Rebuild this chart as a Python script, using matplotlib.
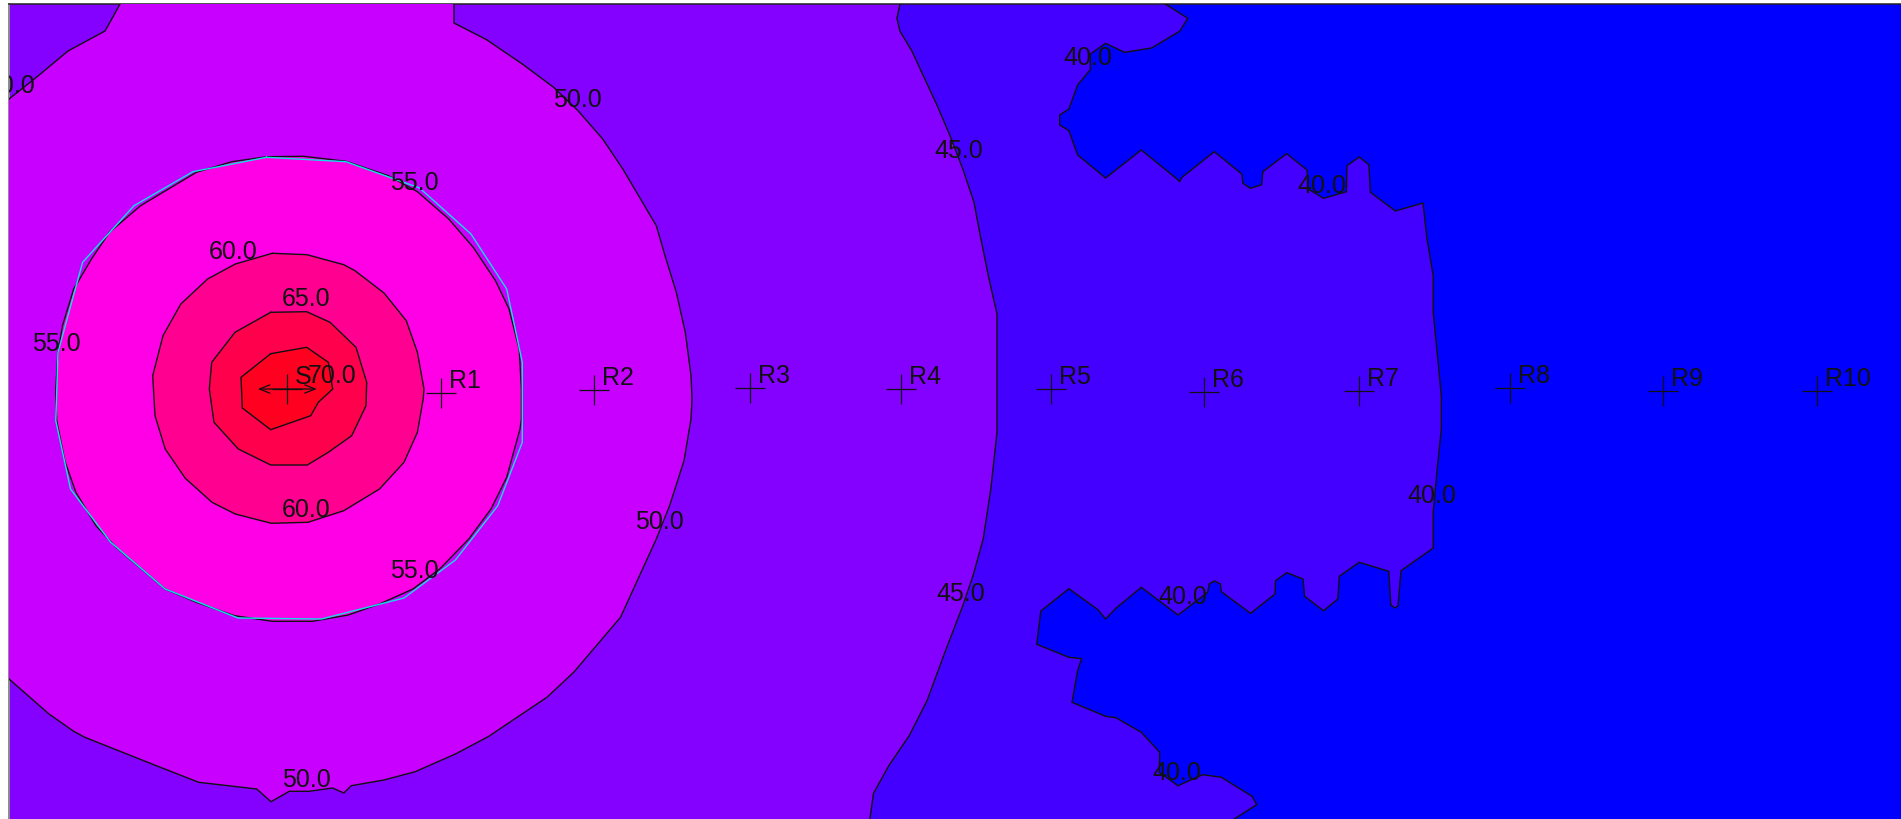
import matplotlib
matplotlib.use("Agg")
import matplotlib.pyplot as plt

plt.rcParams['font.family'] = ['Liberation Sans', 'DejaVu Sans']

W, H = 1901, 820
X0, Y0 = 9, 5

levels_fill = {
    'below40': '#0000ff', 'c40': '#4400ff', 'c45': '#8400ff', 'c50': '#c800ff',
    'c55': '#ff00e6', 'c60': '#ff0090', 'c65': '#ff004c', 'c70': '#ff0020',
}

c40_x = [1165.3,1187.8,1179.6,1151.5,1124.5,1105.6,1090.3,1090.3,1077.6,1068.9,1059.7,1059.7,1068.9,1077.6,1105.6,1141.3,1177,1179.6,1182,1214.3,1241.8,1242.9,1250.5,1261.7,1262.8,1286.7,1307,1308.2,1323.5,1346.4,1347,1359.2,1368.9,1370.4,1395.4,1423,1427,1433.2,1433.2,1441.3,1441.3,1441.3,1437.2,1433.2,1433.2,1401,1398,1394.9,1390.8,1388.8,1359.2,1339.3,1337.8,1323.5,1304.6,1303,1286.7,1275.5,1275,1250.5,1221.4,1220.4,1214.3,1209.2,1207.7,1178,1141.3,1115.8,1105.6,1098,1068.9,1040.8,1036.7,1068.9,1081.6,1077.6,1072,1105.6,1115.8,1141.3,1159.7,1159.2,1178,1202.6,1221.4,1252,1256.7,1234.2]
c40_y = [5,19.3,32.3,49,53.3,44.3,55,70.7,86,110,116,126,131.7,156,179,151,180,182.7,178.3,152.7,175,184.3,189.3,185.7,172.7,154.7,171,190,199.3,192.7,166.7,158,165.7,193.3,212,204,240,276.7,313.3,396.7,400,430,470,513.3,549,571.7,606.7,609,606,572.3,563.3,577.3,600,611.7,597.3,580,573.7,581.7,595,614.3,592.7,585,582,585,593.3,616,588.3,609.3,620,610.7,589.7,612,645.3,658.3,659.7,671.7,703.3,717.3,718.7,733.3,753.3,773.3,786.7,775.7,778.3,797.3,805.7,820]

c45_x = [900,896.9,900,911.7,937.2,950,962.8,974,979.6,988.3,997,997,997,990.8,983.2,973,962.8,944.9,927,909.2,888.8,873.5,869.9]
c45_y = [5,19.3,32.3,51.7,106.7,136.7,170,203.3,233.3,276.7,315,420,433.3,490,540,576.7,606.7,653.3,701.7,736.7,766.7,794.3,820]

c50_main_x = [454,454,486.6,522.3,553.6,578,602.7,622.8,656.3,665,676.3,685.3,691,692,691,684,669.6,656.3,620.5,573.7,546.9,488.8,455.4,415.2,383.9,351.3,343.8,332.6,308.9,289.3,271,256.7,198.7,156.3,84.8,73.7,49,9]
c50_main_y = [5,24,40.7,65,88.3,111.7,140,170,226.7,256.7,293.3,333.3,376.7,400,420,461.7,506.7,540,618.3,673.3,698.3,737.3,755,772.7,781,786.7,794,789,792.3,792.3,802.7,790,783.3,766.7,738.3,732.3,715,680]
c50_corner_x = [9,38,68,105,114,120]
c50_corner_y = [100,77,52,32,16,5]

c55_x = [267,303.6,346,388.4,417.4,448.7,473.2,495.5,509,519.2,521.4,521.4,520,506.7,491,468.8,439.7,413,379.5,348.2,312.5,272.3,234.4,196.4,165.2,116,96,75.9,64.7,56.7,55.8,55.8,58,62.5,73.7,91.5,109.4,140.6,196.4,232]
c55_y = [157.7,157.3,162.3,176.7,192.7,220,248.3,281.7,310,350,390,420,430,478.3,510,540,570,590,605,616,622.3,622.3,616.7,603.3,590,548.3,526.7,493.3,461.7,421.7,400,390,353.3,326.7,290,260,233.3,206.7,173.3,162.7]

cyan_x = [266.5,346,419.6,471,506.7,522.3,522.3,497.8,455.4,404,321.4,238,165.2,110.7,70.5,55.8,58,82.6,134,192.9]
cyan_y = [158.3,162.7,189,235,290,363.3,443.3,506.7,561,599,620,619,590,543.3,490,421.7,353.3,263.3,206.7,172.7]

c60_x = [272.3,307,343.8,355,384,406.3,417.4,424,423.2,417.4,404,379.5,343.8,308,271.4,235.3,212,185.3,165.2,155,152.7,163,180.8,207.6,235.3]
c60_y = [254.3,255.7,265.7,271.7,294,321.7,353.3,390,400,433.3,463.3,490,511.7,523.3,524.3,515,503.3,479.3,450,416.7,376.7,336.7,305,280,265]

c65_x = [270.7,306.7,330,356,366.7,366,351.7,328.3,307.3,270.7,238.3,214,209.3,211.7,235]
c65_y = [313.3,312.7,323.3,348.3,383.3,406.7,436.7,453.3,466,466,450,423.3,390,363.3,333.3]

c70_x = [270.7,306.7,328.3,332.7,318.3,310.7,270.7,242.3,241]
c70_y = [354.7,348.3,363.3,390,403.3,416.7,430.7,409,378.3]

receiver_names = ['R1','R2','R3','R4','R5','R6','R7','R8','R9','R10']
receiver_x = [441,593.8,750,901,1051,1203.6,1358.7,1510,1663.3,1816.7]
receiver_y = [394,390.7,389,390,390,392.7,391.7,389,391.7,391.7]

source_name = 'S'
source_x, source_y = 287.3, 390

label_texts = ['50.0','50.0','55.0','60.0','65.0','55.0','70.0','60.0','55.0','50.0','50.0','40.0','45.0','40.0','45.0','40.0','40.0','40.0']
label_x = [-13,554,391.5,209.8,282.6,32.6,308.3,282.6,391.5,636,282.6,1064.8,935.7,1298,937.2,1408.2,1159.2,1153]
label_y = [93,106.7,190,259.3,306,350.7,382.7,517.3,577.7,529.3,786.7,65,158.3,193.3,601,503.3,604.3,780]

fig = plt.figure(figsize=(W/100, H/100), dpi=100, facecolor='white')
ax = fig.add_axes([X0/W, 0, (W-X0)/W, (H-Y0)/H])
ax.set_xlim(X0, W)
ax.set_ylim(H, Y0)
ax.set_facecolor(levels_fill['below40'])
ax.set_xticks([]); ax.set_yticks([])
for s in ('right', 'bottom'):
    ax.spines[s].set_visible(False)
ax.spines['left'].set_linewidth(1.4)
ax.spines['left'].set_color('#8a8a8a')
ax.spines['top'].set_linewidth(1.1)
ax.spines['top'].set_color('#222222')

LW = 1.0

# filled bands: outer to inner, each closed along the plot frame
ax.fill(c40_x + [X0, X0], c40_y + [H, Y0], color=levels_fill['c40'], lw=0, zorder=1)
ax.fill(c45_x + [X0, X0], c45_y + [H, Y0], color=levels_fill['c45'], lw=0, zorder=2)
ax.fill(c50_main_x + c50_corner_x, c50_main_y + c50_corner_y, color=levels_fill['c50'], lw=0, zorder=3)
ax.fill(c55_x, c55_y, color=levels_fill['c55'], lw=0, zorder=4)
ax.fill(c60_x, c60_y, color=levels_fill['c60'], lw=0, zorder=5)
ax.fill(c65_x, c65_y, color=levels_fill['c65'], lw=0, zorder=6)
ax.fill(c70_x, c70_y, color=levels_fill['c70'], lw=0, zorder=7)

# contour lines
for xs, ys in [(c40_x, c40_y), (c45_x, c45_y), (c50_main_x, c50_main_y), (c50_corner_x, c50_corner_y)]:
    ax.plot(xs, ys, color='#111111', lw=LW, zorder=8, solid_joinstyle='miter')
for xs, ys in [(c55_x, c55_y), (c60_x, c60_y), (c65_x, c65_y), (c70_x, c70_y)]:
    ax.plot(xs + xs[:1], ys + ys[:1], color='#111111', lw=LW, zorder=8, solid_joinstyle='miter')
ax.plot(cyan_x + cyan_x[:1], cyan_y + cyan_y[:1], color='#10dfe8', lw=LW, zorder=9)

# receivers and source
ax.plot(receiver_x, receiver_y, ls='none', marker='+', ms=21.6, mew=0.9, color='#111111', zorder=10)
ax.plot([source_x], [source_y], ls='none', marker='+', ms=21.6, mew=0.9, color='#111111', zorder=10)
ax.annotate('', xy=(source_x-29.5, source_y), xytext=(source_x+29.5, source_y),
            arrowprops=dict(arrowstyle='<->,head_length=0.75,head_width=0.3', lw=0.9, color='#111111',
                            shrinkA=0, shrinkB=0), zorder=10)

FS = 18
for name, x, y in zip(receiver_names, receiver_x, receiver_y):
    ax.text(x + 8, y - 5.5, name, fontsize=FS, color='#111111', va='baseline', ha='left', zorder=11)
ax.text(295, 384, source_name, fontsize=FS, color='#111111', va='baseline', ha='left', zorder=11)
for t, x, y in zip(label_texts, label_x, label_y):
    ax.text(x - 1, y, t, fontsize=FS, color='#111111', va='baseline', ha='left', zorder=11, clip_on=True)

fig.savefig('out.png', dpi=100, facecolor='white')
